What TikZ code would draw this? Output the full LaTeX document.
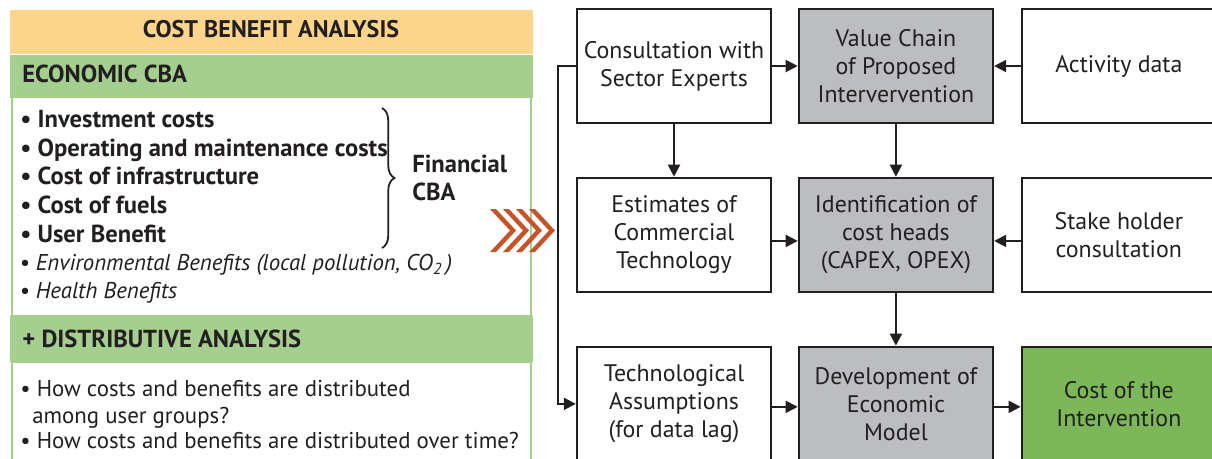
\documentclass[tikz,border=0pt]{standalone}
\usepackage{fontspec}
\setmainfont{PT Sans}
\usetikzlibrary{arrows.meta}
\usetikzlibrary{decorations.pathreplacing}
\usetikzlibrary{positioning}

\definecolor{cbaorange}{RGB}{253,213,140}
\definecolor{cbagreen}{RGB}{165,207,143}
\definecolor{boxgrey}{RGB}{188,189,192}
\definecolor{costgreen}{RGB}{124,184,90}
\definecolor{chevron}{RGB}{197,84,40}
\definecolor{ink}{RGB}{35,31,32}

\tikzset{
  stepbox/.style={rectangle,draw=ink,line width=1.4pt,minimum width=3.88cm,minimum height=2.28cm,inner sep=0pt,align=center,text=ink,font=\fontsize{13.6}{15.9}\selectfont},
  greybox/.style={stepbox,fill=boxgrey},
  flow/.style={-{Triangle[length=0.24cm,width=0.24cm]},line width=1.1pt,draw=ink},
  bartext/.style={anchor=base west,inner sep=0pt,text=ink,font=\fontsize{14}{16}\selectfont\bfseries},
  itemtext/.style={anchor=base west,inner sep=0pt,text=ink,font=\fontsize{13}{16}\selectfont}
}

\begin{document}
\begin{tikzpicture}[x=0.02cm,y=-0.02cm]
\useasboundingbox (0,0) rectangle (1212,458);

\draw[fill=cbaorange,draw=none] (10,10) rectangle (533,54);
\node[bartext,anchor=base,font=\fontsize{13.7}{16}\selectfont\bfseries] (title) at (271,37) {COST BENEFIT ANALYSIS};
\draw[fill=white,draw=cbagreen,line width=0.8pt] (12,97) rectangle (531,316);
\draw[fill=white,draw=cbagreen,line width=0.8pt] (12,362) rectangle (531,470);
\draw[fill=cbagreen,draw=none] (10,55) rectangle (533,98);
\draw[fill=cbagreen,draw=none] (10,316) rectangle (533,362);
\node[bartext] (econ) at (22,82) {ECONOMIC CBA};
\node[bartext] (distr) at (22,347) {+ DISTRIBUTIVE ANALYSIS};

\node[bartext] (invest) at (20,127) {\textbullet\ Investment costs};
\node[bartext] (operate) at (20,156) {\textbullet\ Operating and maintenance costs};
\node[bartext] (infra) at (20,184) {\textbullet\ Cost of infrastructure};
\node[bartext] (fuels) at (20,213) {\textbullet\ Cost of fuels};
\node[bartext] (user) at (20,242) {\textbullet\ User Benefit};
\node[itemtext,font=\fontsize{13}{16}\selectfont\itshape] (environ) at (19,270) {\textbullet\ Environmental Benefits (local pollution, CO\textsubscript{2}\,)};
\node[itemtext,font=\fontsize{13}{16}\selectfont\itshape] (health) at (19,298) {\textbullet\ Health Benefits};
\draw[ink,line width=1pt,decorate,decoration={brace,amplitude=0.25cm}] (382,108) -- (382,248);
\node[bartext,anchor=west,align=left,font=\fontsize{14}{15.9}\selectfont\bfseries] (financial) at (412,178) {Financial\\CBA};

\node[itemtext] (among) at (20,396) {\textbullet\ How costs and benefits are distributed};
\node[itemtext] (groups) at (32,423) {among user groups?};
\node[itemtext] (time) at (20,448) {\textbullet\ How costs and benefits are distributed over time?};

\foreach \i in {0,...,3}
  \fill[chevron] (490+13*\i,209) -- (496+13*\i,209) -- (516+13*\i,230.5) -- (496+13*\i,252) -- (490+13*\i,252) -- (510+13*\i,230.5) -- cycle;

\node[stepbox] (consult) at (674,66) {Consultation with\\Sector Experts};
\node[greybox,right=0.51cm of consult] (value) {Value Chain\\of Proposed\\Intervervention};
\node[stepbox,right=0.53cm of value] (activity) {Activity data};
\node[stepbox,below=1.05cm of consult] (estimates) {Estimates of\\Commercial\\Technology};
\node[greybox,below=1.05cm of value] (ident) {Identification of\\cost heads\\(CAPEX, OPEX)};
\node[stepbox,below=1.05cm of activity] (stake) {Stake holder\\consultation};
\node[stepbox,below=1.05cm of estimates] (techno) {Technological\\Assumptions\\(for data lag)};
\node[greybox,below=1.05cm of ident] (devel) {Development of\\Economic\\Model};
\node[stepbox,fill=costgreen,below=1.05cm of stake] (costint) {Cost of the\\Intervention};

\draw[flow] (consult) -- (value);
\draw[flow] (activity) -- (value);
\draw[flow] (consult) -- (estimates);
\draw[flow] (value) -- (ident);
\draw[flow] ([yshift=-0.12cm]estimates.east) -- ([yshift=-0.12cm]ident.west);
\draw[flow] ([yshift=-0.12cm]stake.west) -- ([yshift=-0.12cm]ident.east);
\draw[flow] (ident) -- (devel);
\draw[flow] ([yshift=-0.06cm]techno.east) -- ([yshift=-0.06cm]devel.west);
\draw[flow] ([yshift=-0.06cm]devel.east) -- ([yshift=-0.06cm]costint.west);
\draw[flow] (consult.west) -- ++(-0.36cm,0) |- (techno.west);

\end{tikzpicture}
\end{document}
